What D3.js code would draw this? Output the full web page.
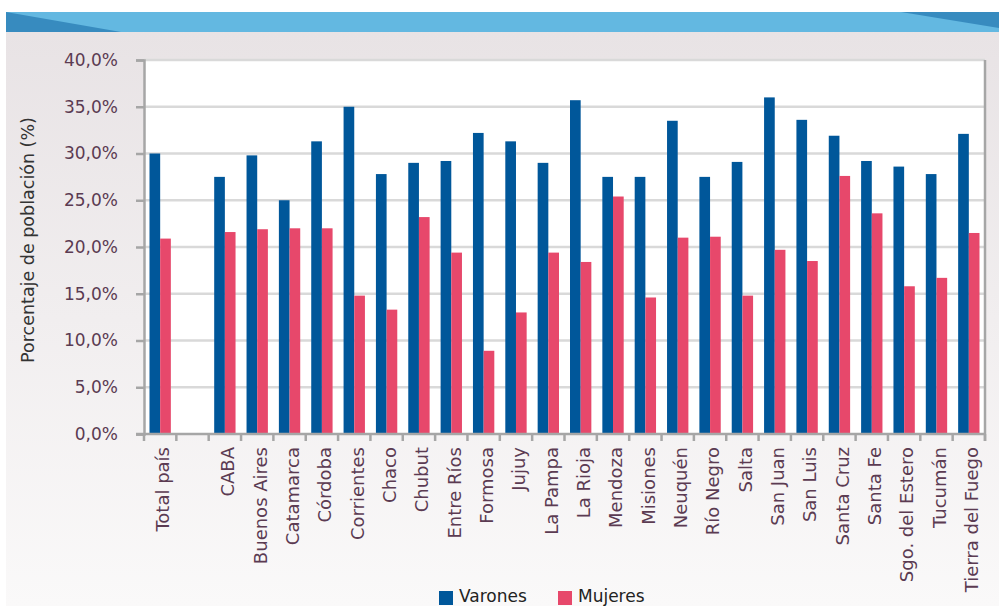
<!DOCTYPE html>
<html>
<head>
<meta charset="utf-8">
<script src="https://cdn.jsdelivr.net/npm/d3@7"></script>
<style>
  html, body { margin: 0; padding: 0; background: #ffffff; }
  svg { display: block; font-family: "DejaVu Sans", "Noto Sans", sans-serif; }
</style>
</head>
<body>
<svg id="chart" width="999" height="606"></svg>
<script>
// Categories (the empty entry leaves a gap after the national total)
const categories = ["Total país", "", "CABA", "Buenos Aires", "Catamarca", "Córdoba", "Corrientes",
  "Chaco", "Chubut", "Entre Ríos", "Formosa", "Jujuy", "La Pampa", "La Rioja", "Mendoza",
  "Misiones", "Neuquén", "Río Negro", "Salta", "San Juan", "San Luis", "Santa Cruz",
  "Santa Fe", "Sgo. del Estero", "Tucumán", "Tierra del Fuego"];

const seriesNames = ["Varones", "Mujeres"];

// Percent of population, by category
const varones = [30.0, null, 27.5, 29.8, 25.0, 31.3, 35.0, 27.8, 29.0, 29.2, 32.2, 31.3, 29.0,
  35.7, 27.5, 27.5, 33.5, 27.5, 29.1, 36.0, 33.6, 31.9, 29.2, 28.6, 27.8, 32.1];
const mujeres = [20.9, null, 21.6, 21.9, 22.0, 22.0, 14.8, 13.3, 23.2, 19.4, 8.9, 13.0, 19.4,
  18.4, 25.4, 14.6, 21.0, 21.1, 14.8, 19.7, 18.5, 27.6, 23.6, 15.8, 16.7, 21.5];

const yTicks = [0, 5, 10, 15, 20, 25, 30, 35, 40];

const colors = { "Varones": "#00579a", "Mujeres": "#e7486b" };

const svg = d3.select("#chart");
const W = 999, H = 606;

// Panel background with soft vertical gradient
const defs = svg.append("defs");
const grad = defs.append("linearGradient").attr("id", "panelGrad")
  .attr("x1", 0).attr("y1", 0).attr("x2", 0).attr("y2", 1);
grad.append("stop").attr("offset", "0%").attr("stop-color", "#e8e3e5");
grad.append("stop").attr("offset", "100%").attr("stop-color", "#faf9f9");

svg.append("rect").attr("x", 6).attr("y", 32).attr("width", W - 6).attr("height", H - 32)
  .attr("fill", "url(#panelGrad)");

// Header band
svg.append("rect").attr("x", 6).attr("y", 12).attr("width", W - 6).attr("height", 20)
  .attr("fill", "#63b8e1");
svg.append("path").attr("d", "M6,12 L121,32 L6,32 Z").attr("fill", "#378bbf");
svg.append("path").attr("d", "M901,12 L999,12 L999,28 Z").attr("fill", "#378bbf");

// Plot area
const plot = { left: 144, right: 985, top: 60, bottom: 434 };

const x = d3.scaleBand().domain(d3.range(categories.length)).range([plot.left, plot.right])
  .paddingInner(0).paddingOuter(0);
const y = d3.scaleLinear().domain([0, 40]).range([plot.bottom, plot.top]);

const bw = x.bandwidth();
const groupW = bw * 0.66;
const xs = d3.scaleBand().domain(seriesNames).range([(bw - groupW) / 2, (bw + groupW) / 2]).padding(0);

svg.append("rect").attr("x", plot.left).attr("y", plot.top)
  .attr("width", plot.right - plot.left).attr("height", plot.bottom - plot.top)
  .attr("fill", "#ffffff");

// Horizontal gridlines
svg.append("g").selectAll("line").data(yTicks.filter(d => d > 0)).join("line")
  .attr("x1", plot.left).attr("x2", plot.right)
  .attr("y1", d => y(d)).attr("y2", d => y(d))
  .attr("stroke", "#d9d9d9").attr("stroke-width", 2.5);

// Bars
const rows = categories.map((c, i) => ({ cat: c, key: i, values: [
  { name: "Varones", v: varones[i] }, { name: "Mujeres", v: mujeres[i] }] }));

svg.append("g").selectAll("g").data(rows).join("g")
  .attr("transform", d => `translate(${x(d.key)},0)`)
  .selectAll("rect").data(d => d.values.filter(e => e.v != null)).join("rect")
  .attr("x", d => xs(d.name))
  .attr("width", xs.bandwidth())
  .attr("y", d => y(d.v))
  .attr("height", d => y(0) - y(d.v))
  .attr("fill", d => colors[d.name]);

// Y axis
const fmt = d => d3.format(".1f")(d).replace(".", ",") + "%";
const yAxis = svg.append("g").attr("transform", `translate(${plot.left},0)`)
  .call(d3.axisLeft(y).tickValues(yTicks).tickFormat(fmt).tickSize(8).tickPadding(18));
yAxis.select(".domain").attr("stroke", "#a6a6a6").attr("stroke-width", 2.5);
yAxis.selectAll(".tick line").attr("stroke", "#a6a6a6").attr("stroke-width", 2.5);
yAxis.selectAll(".tick text").attr("fill", "#5b3b52").attr("font-size", 17)
  .attr("font-family", "'DejaVu Sans', sans-serif");

// Right border
svg.append("line").attr("x1", plot.right).attr("x2", plot.right)
  .attr("y1", plot.top).attr("y2", plot.bottom + 7)
  .attr("stroke", "#a6a6a6").attr("stroke-width", 2.5);

// X axis line and slot ticks
svg.append("line").attr("x1", plot.left - 8).attr("x2", plot.right + 1)
  .attr("y1", plot.bottom).attr("y2", plot.bottom)
  .attr("stroke", "#a6a6a6").attr("stroke-width", 2.5);
const bounds = x.domain().map(i => x(i)).concat([plot.right]);
svg.append("g").selectAll("line").data(bounds).join("line")
  .attr("x1", d => d).attr("x2", d => d)
  .attr("y1", plot.bottom).attr("y2", plot.bottom + 7)
  .attr("stroke", "#a6a6a6").attr("stroke-width", 2.5);

// X labels (rotated)
svg.append("g").selectAll("text").data(rows.filter(r => r.cat !== "")).join("text")
  .attr("transform", d => `translate(${x(d.key) + bw / 2 + 3},447) rotate(-90)`)
  .attr("text-anchor", "end").attr("dy", "0.35em")
  .attr("fill", "#5b3b52").attr("font-size", 18)
  .text(d => d.cat);

// Y axis title
svg.append("text")
  .attr("transform", "translate(28,240) rotate(-90)")
  .attr("text-anchor", "middle").attr("dy", "0.35em")
  .attr("fill", "#333333").attr("font-size", 17.5)
  .text("Porcentaje de población (%)");

// Legend
const legend = svg.append("g");
const legendPos = [439, 558];
seriesNames.forEach((s, i) => {
  legend.append("rect").attr("x", legendPos[i]).attr("y", 591).attr("width", 14).attr("height", 14)
    .attr("fill", colors[s]);
  legend.append("text").attr("x", legendPos[i] + 20).attr("y", 602)
    .attr("fill", "#222222").attr("font-size", 17).text(s);
});
</script>
</body>
</html>
